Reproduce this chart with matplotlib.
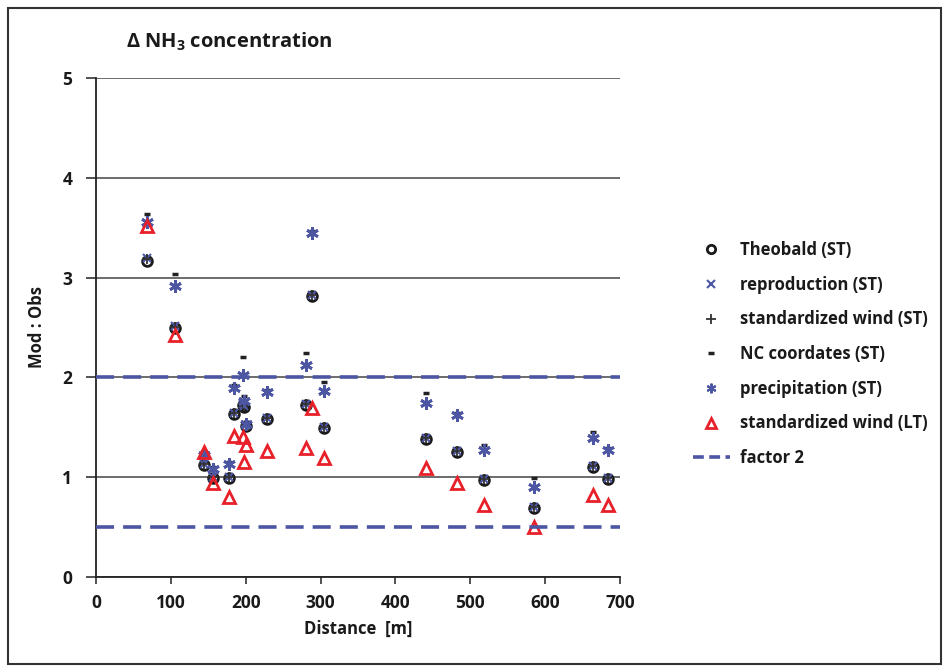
import matplotlib
matplotlib.use("Agg")
import matplotlib.pyplot as plt
from matplotlib.lines import Line2D
from matplotlib.patches import Rectangle

# ---- data ----
distance = [68, 106, 144, 156, 178, 185, 196, 198, 200, 228, 281, 288, 305,
            441, 482, 518, 585, 664, 684]
theobald = [3.17, 2.50, 1.12, 0.99, 0.99, 1.63, 1.72, 1.70, 1.51, 1.58, 1.72,
            2.82, 1.49, 1.38, 1.25, 0.97, 0.69, 1.10, 0.98]
reproduction = [3.20, 2.52, 1.13, 1.00, 1.00, 1.64, 1.73, 1.71, 1.52, 1.59,
                1.73, 2.83, 1.50, 1.39, 1.26, 0.98, 0.70, 1.11, 0.99]
std_wind_st = [3.19, 2.51, 1.13, 1.00, 1.00, 1.64, 1.73, 1.71, 1.52, 1.59,
               1.73, 2.83, 1.50, 1.39, 1.26, 0.98, 0.70, 1.11, 0.99]
nc_coord = [3.64, 3.04, 1.26, 1.10, 1.15, 1.92, 2.20, 1.81, 1.55, 1.87, 2.24,
            3.47, 1.95, 1.84, 1.64, 1.32, 0.99, 1.45, 1.29]
precipitation = [3.56, 2.92, 1.22, 1.08, 1.13, 1.89, 2.02, 1.76, 1.53, 1.85,
                 2.12, 3.45, 1.86, 1.74, 1.62, 1.27, 0.90, 1.39, 1.27]
std_wind_lt = [3.52, 2.42, 1.25, 0.94, 0.80, 1.41, 1.40, 1.15, 1.32, 1.26,
               1.29, 1.69, 1.19, 1.09, 0.94, 0.72, 0.50, 0.82, 0.72]
factor2_levels = [2.0, 0.5]
x_ticks = [0, 100, 200, 300, 400, 500, 600, 700]
y_ticks = [0, 1, 2, 3, 4, 5]
labels = ["Theobald (ST)", "reproduction (ST)", "standardized wind (ST)",
          "NC coordates (ST)", "precipitation (ST)", "standardized wind (LT)",
          "factor 2"]

plt.rcParams['font.family'] = ['Open Sans', 'DejaVu Sans']
plt.rcParams['font.weight'] = 'bold'
plt.rcParams['mathtext.fontset'] = 'custom'
plt.rcParams['mathtext.bf'] = 'Open Sans:bold'
plt.rcParams['mathtext.rm'] = 'Open Sans:bold'

W, H = 949, 672
fig = plt.figure(figsize=(W / 100, H / 100), dpi=100)
fig.patch.set_facecolor('white')

# outer frame
fig.patches.append(Rectangle((8 / W, 8 / H), (941 - 8) / W, (664 - 8) / H,
                             transform=fig.transFigure, fill=False,
                             edgecolor='#333333', linewidth=1.5))

ax = fig.add_axes([96 / W, 1 - 577 / H, (620 - 96) / W, (577 - 78) / H])
ax.set_xlim(0, 700)
ax.set_ylim(0, 5)
ax.set_xticks(x_ticks)
ax.set_yticks(y_ticks)
for s in ['top', 'right']:
    ax.spines[s].set_visible(False)
for s in ['left', 'bottom']:
    ax.spines[s].set_color('#222222')
    ax.spines[s].set_linewidth(1.3)
ax.tick_params(axis='y', direction='out', length=7, width=1.2, color='#333333',
               labelsize=12.5, pad=10, labelcolor='#1a1a1a')
ax.tick_params(axis='x', direction='out', length=5, width=1.2, color='#333333',
               labelsize=12.5, pad=7, labelcolor='#1a1a1a')
for lab in ax.get_xticklabels() + ax.get_yticklabels():
    lab.set_fontweight('bold')
ax.yaxis.grid(True, color='#444444', linewidth=1.1)
ax.set_axisbelow(True)

blue = '#4c56a3'
red = '#e8202a'
ms = 7
h_circ, = ax.plot(distance, theobald, 'o', mfc='none', mec='#1a1a1a', mew=2.0,
                  ms=ms, linestyle='none')
h_rep, = ax.plot(distance, reproduction, 'x', color=blue, mew=1.5, ms=6,
                 linestyle='none')
h_sw, = ax.plot(distance, std_wind_st, '+', color='#333333', mew=1.3, ms=7,
                linestyle='none')
h_nc, = ax.plot(distance, nc_coord, '_', color='#222222', mew=2.5, ms=5,
                linestyle='none')
h_pr, = ax.plot(distance, precipitation, marker=(6, 2, 0), color=blue, mew=2.0,
                ms=9, linestyle='none')
h_lt, = ax.plot(distance, std_wind_lt, '^', mfc='none', mec=red, mew=2.0,
                ms=8, linestyle='none')
for lv in factor2_levels:
    h_f2 = ax.axhline(lv, color=blue, linewidth=2.6, dashes=(5, 2.5), zorder=3)

ax.set_ylabel("Mod : Obs", fontsize=12, fontweight='bold', labelpad=12,
              color='#1a1a1a')
ax.set_xlabel("Distance  [m]", fontsize=12, fontweight='bold', labelpad=6,
              color='#1a1a1a')

fig.text(229 / W, 1 - 42 / H, "Δ NH$_\\mathbf{3}$ concentration", ha='center',
         va='center', fontsize=14.5, fontweight='bold', color='#1a1a1a')

leg_handles = [
    Line2D([], [], marker='o', mfc='none', mec='#1a1a1a', mew=2.0, ms=6, ls='none'),
    Line2D([], [], marker='x', color=blue, mew=1.5, ms=6, ls='none'),
    Line2D([], [], marker='+', color='#333333', mew=1.3, ms=7, ls='none'),
    Line2D([], [], marker='_', color='#222222', mew=2.5, ms=5, ls='none'),
    Line2D([], [], marker=(6, 2, 0), color=blue, mew=1.5, ms=7, ls='none'),
    Line2D([], [], marker='^', mfc='none', mec=red, mew=2.0, ms=7, ls='none'),
    Line2D([], [], color=blue, linewidth=2.6, dashes=(3, 1.5)),
]
leg = fig.legend(leg_handles, labels, loc='upper left',
                 bbox_to_anchor=(678 / W, 1 - 226 / H), frameon=False,
                 labelspacing=1.0, handlelength=2.2, handletextpad=0.6,
                 prop={'weight': 'bold', 'size': 12})
for t in leg.get_texts():
    t.set_color('#1a1a1a')

fig.savefig("out.png", dpi=100)
